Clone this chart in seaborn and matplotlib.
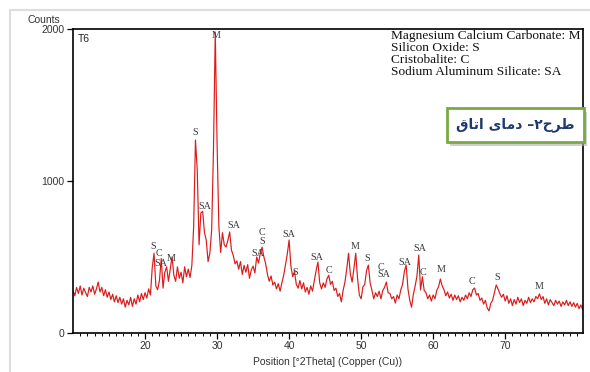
import numpy as np
import pandas as pd
import matplotlib
matplotlib.use("Agg")
import matplotlib.pyplot as plt
import seaborn as sns
from matplotlib.patches import Rectangle
from matplotlib.lines import Line2D

# ---------------- data ----------------
two_theta_start = 10.0
two_theta_step = 0.25

counts_10_20 = [280, 245, 300, 260, 310, 250, 295, 265, 240, 300,
                270, 310, 255, 290, 335, 270, 300, 245, 285, 235,
                270, 220, 255, 205, 245, 200, 235, 190, 225, 170,
                215, 185, 235, 175, 225, 190, 250, 205, 260, 220]
counts_20_30 = [265, 230, 290, 250, 430, 525, 310, 285, 345, 490,
                295, 400, 435, 340, 420, 500, 380, 340, 435, 360,
                400, 330, 435, 370, 420, 365, 445, 700, 1270, 1070,
                580, 790, 800, 660, 610, 470, 525, 680, 1200, 1980]
counts_30_40 = [1250, 700, 530, 660, 580, 565, 610, 665, 545, 510,
                455, 475, 420, 470, 385, 445, 400, 450, 360, 415,
                440, 395, 500, 460, 525, 565, 500, 455, 385, 340,
                375, 315, 335, 290, 325, 275, 330, 380, 450, 520]
counts_40_50 = [612, 440, 370, 405, 320, 295, 345, 290, 330, 270,
                300, 255, 310, 275, 345, 410, 467, 330, 290, 330,
                300, 355, 380, 320, 340, 280, 295, 240, 260, 205,
                280, 335, 420, 525, 390, 335, 425, 525, 360, 250]
counts_50_60 = [225, 305, 320, 410, 447, 330, 280, 225, 265, 240,
                275, 225, 280, 300, 335, 265, 260, 225, 240, 197,
                250, 225, 283, 320, 405, 447, 290, 215, 170, 255,
                310, 375, 513, 283, 370, 280, 265, 225, 250, 210]
counts_60_70 = [250, 225, 280, 305, 355, 310, 285, 245, 270, 230,
                255, 215, 250, 220, 245, 205, 235, 215, 250, 225,
                265, 240, 285, 296, 250, 260, 215, 230, 190, 215,
                165, 145, 195, 215, 265, 316, 290, 260, 235, 255]
counts_70_81 = [210, 245, 195, 225, 180, 220, 190, 235, 200, 225,
                180, 215, 195, 235, 200, 225, 205, 240, 225, 257,
                220, 240, 195, 225, 185, 220, 200, 180, 215, 190,
                210, 175, 205, 185, 215, 180, 205, 175, 200, 170,
                195, 160, 185, 155, 170]

counts = (counts_10_20 + counts_20_30 + counts_30_40 + counts_40_50 +
          counts_50_60 + counts_60_70 + counts_70_81)
two_theta = two_theta_start + two_theta_step * np.arange(len(counts))

# peak phase labels: 2theta, counts level, text
label_pos = [21.1, 21.9, 22.2, 23.6, 26.9, 28.3, 29.9, 32.3, 35.6, 36.3,
             36.3, 39.9, 40.9, 43.9, 45.5, 49.2, 50.9, 52.7, 53.2, 56.1,
             58.1, 58.6, 61.1, 65.4, 68.9, 74.7]
label_level = [566, 520, 454, 493, 1316, 829, 1954, 704, 520, 664,
               605, 645, 401, 500, 414, 566, 487, 434, 382, 467,
               553, 395, 421, 342, 362, 309]
label_text = ["S", "C", "SA", "M", "S", "SA", "M", "SA", "SA", "C",
              "S", "SA", "S", "SA", "C", "M", "S", "C", "SA", "SA",
              "SA", "C", "M", "C", "S", "M"]

legend_lines = ["Magnesium Calcium Carbonate: M",
                "Silicon Oxide: S",
                "Cristobalite: C",
                "Sodium Aluminum Silicate: SA"]

x_ticks = [20, 30, 40, 50, 60, 70]
y_ticks = [0, 1000, 2000]

# Persian caption "طرح۲- دمای اتاق" (pre-shaped presentation forms, visual order)
caption = "\uFED5\uFE8E\uFE97\uFE8D \uFBFC\uFE8E\uFEE3\uFEA9 \u2013\u06F2\uFEA1\uFEAE\uFEC3"

df = pd.DataFrame({"two_theta": two_theta, "counts": counts})

# ---------------- drawing ----------------
sns.set_theme(style="ticks")
plt.rcParams["font.family"] = ["Liberation Sans", "DejaVu Sans"]

W, H = 590, 372
fig = plt.figure(figsize=(W / 100, H / 100), dpi=100)
fig.patch.set_facecolor("white")
ax = fig.add_axes([73 / W, (H - 333) / H, (583 - 73) / W, (333 - 29) / H])

sns.lineplot(data=df, x="two_theta", y="counts", ax=ax, color="#dc1a1a",
             lw=0.85, estimator=None, sort=False)

ax.set_xlim(10, 80.8)
ax.set_ylim(0, 2000)
ax.set_xticks(x_ticks)
ax.set_xticks(np.arange(11, 81, 1), minor=True)
ax.set_yticks(y_ticks)
ax.tick_params(axis="both", which="major", labelsize=7.5, length=4,
               width=0.9, color="black", labelcolor="#333333", pad=2)
ax.tick_params(axis="x", which="minor", length=2.5, width=0.7, color="black")
for s in ax.spines.values():
    s.set_color("black")
    s.set_linewidth(1.2)
    s.set_visible(True)

ax.set_xlabel("Position [°2Theta] (Copper (Cu))", fontsize=7.5,
              color="#333333", labelpad=4)
ax.set_ylabel("")
fig.text(28 / W, (H - 20) / H, "Counts", fontsize=7.5, color="#333333",
         ha="left", va="center")
ax.text(0.01, 0.985, "T6", transform=ax.transAxes, fontsize=7.5,
        color="#222222", ha="left", va="top")

for p, lvl, t in zip(label_pos, label_level, label_text):
    ax.text(p, lvl, t, fontsize=7.3, family="Liberation Serif",
            color="#3a3a3a", ha="center", va="center")

for i, line in enumerate(legend_lines):
    fig.text(391 / W, (H - (36 + 12 * i)) / H, line, fontsize=9.6,
             family="Liberation Serif", color="#111111",
             ha="left", va="center")

# caption box with shadow
bx0, by0, bx1, by1 = 447, 108, 584, 142
fig.add_artist(Rectangle(((bx0 + 3) / W, (H - by1 - 4) / H),
                         (bx1 - bx0) / W, (by1 - by0) / H,
                         transform=fig.transFigure, facecolor="#b0b0b0",
                         edgecolor="none", alpha=0.6, zorder=5))
fig.add_artist(Rectangle((bx0 / W, (H - by1) / H),
                         (bx1 - bx0) / W, (by1 - by0) / H,
                         transform=fig.transFigure, facecolor="white",
                         edgecolor="#78a946", lw=2.0, zorder=6))
fig.text((bx0 + bx1) / 2 / W, (H - 125) / H, caption, fontsize=10,
         family=["DejaVu Sans"], weight="bold", color="#1f3a6e",
         ha="center", va="center", zorder=7)

# light outer frame
fig.add_artist(Line2D([10 / W, 10 / W], [0, (H - 10) / H],
                      transform=fig.transFigure, color="#dddddd", lw=1.5))
fig.add_artist(Line2D([10 / W, 1], [(H - 10) / H, (H - 10) / H],
                      transform=fig.transFigure, color="#dddddd", lw=1.5))

fig.savefig("out.png", dpi=100)
